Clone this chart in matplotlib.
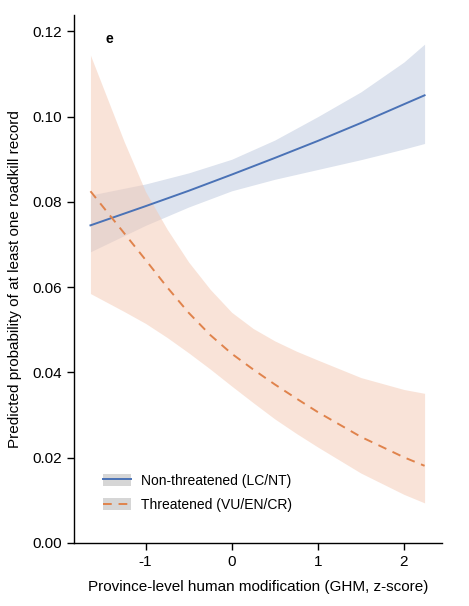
import matplotlib
matplotlib.use('Agg')
import matplotlib.pyplot as plt
from matplotlib.lines import Line2D
from matplotlib.patches import Patch

plt.rcParams['font.family'] = ['Liberation Sans', 'DejaVu Sans']
plt.rcParams['axes.unicode_minus'] = False

# non-threatened (LC/NT)
x_nt = [-1.64, -1.0, -0.5, 0.0, 0.5, 1.0, 1.5, 2.0, 2.24]
fit_nt = [0.0745, 0.0790, 0.0826, 0.0864, 0.0903, 0.0943, 0.0985, 0.1029, 0.1050]
hi_nt = [0.0816, 0.0842, 0.0868, 0.0900, 0.0945, 0.1000, 0.1058, 0.1128, 0.1170]
lo_nt = [0.0683, 0.0745, 0.0788, 0.0826, 0.0853, 0.0876, 0.0899, 0.0924, 0.0937]

# threatened (VU/EN/CR)
x_th = [-1.64, -1.25, -1.0, -0.75, -0.5, -0.25, 0.0, 0.25, 0.5, 0.75, 1.0, 1.5, 2.0, 2.24]
fit_th = [0.0825, 0.0727, 0.0664, 0.0600, 0.0540, 0.0488, 0.0444, 0.0407, 0.0372, 0.0339, 0.0307, 0.0249, 0.0201, 0.0181]
hi_th = [0.1144, 0.0942, 0.0824, 0.0736, 0.0659, 0.0595, 0.0541, 0.0503, 0.0474, 0.0450, 0.0429, 0.0388, 0.0360, 0.0351]
lo_th = [0.0585, 0.0543, 0.0515, 0.0482, 0.0446, 0.0408, 0.0368, 0.0329, 0.0291, 0.0257, 0.0225, 0.0164, 0.0114, 0.0094]

blue = '#4a72b6'
orange = '#e0834c'

fig = plt.figure(figsize=(4.69, 6.06), dpi=100)
ax = fig.add_axes([0.158, 0.104, 0.784, 0.871])

ax.fill_between(x_nt, lo_nt, hi_nt, color='#dde3ee', lw=0)
ax.fill_between(x_th, lo_th, hi_th, color='#f4c8b2', alpha=0.5, lw=0)
ax.plot(x_nt, fit_nt, color=blue, lw=1.4)
ax.plot(x_th, fit_th, color=orange, lw=1.4, dashes=(4.5, 3.5))

ax.set_xlim(-1.83, 2.44)
ax.set_ylim(0, 0.1238)
ax.set_xticks([-1, 0, 1, 2])
ax.set_yticks([0, 0.02, 0.04, 0.06, 0.08, 0.10, 0.12])
ax.set_yticklabels(['0.00', '0.02', '0.04', '0.06', '0.08', '0.10', '0.12'])
ax.tick_params(direction='out', length=5, width=1, labelsize=11, colors='black')
for s in ['top', 'right']:
    ax.spines[s].set_visible(False)
for s in ['left', 'bottom']:
    ax.spines[s].set_linewidth(1)

ax.set_xlabel('Province-level human modification (GHM, z-score)', fontsize=11, labelpad=8)
ax.set_ylabel('Predicted probability of at least one roadkill record', fontsize=11, labelpad=8)

ax.text(0.095, 0.955, 'e', transform=ax.transAxes, fontsize=10, fontweight='bold',
        ha='center', va='center')

key = '#d6d6d6'
h1 = (Patch(facecolor=key, edgecolor='none'), Line2D([], [], color=blue, lw=1.4))
h2 = (Patch(facecolor=key, edgecolor='none'), Line2D([], [], color=orange, lw=1.4, dashes=(4.5, 3.5)))
ax.legend([h1, h2], ['Non-threatened (LC/NT)', 'Threatened (VU/EN/CR)'],
          loc='lower left', bbox_to_anchor=(0.045, 0.035), frameon=False,
          fontsize=10, handlelength=2.0, handleheight=1.0, labelspacing=0.75,
          handletextpad=0.7)

fig.savefig('out.png', dpi=100)
